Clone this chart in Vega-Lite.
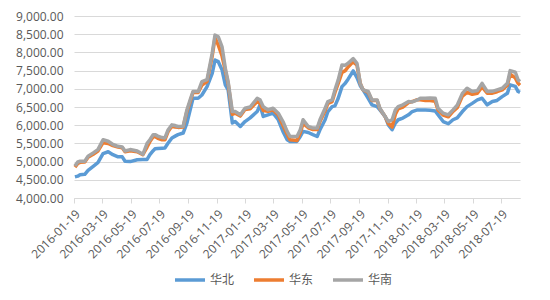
{
  "$schema": "https://vega.github.io/schema/vega-lite/v6.json",
  "width": 446,
  "height": 182,
  "autosize": {"type": "none"},
  "padding": {"left": 74, "top": 16, "right": 30, "bottom": 102},
  "background": "white",
  "config": {
    "view": {"stroke": null},
    "font": "Open Sans"
  },
  "data": {
    "values": [
      {"d": "2016-01-21", "华北": 4580, "华东": 4850, "华南": 4880},
      {"d": "2016-01-27", "华北": 4600, "华东": 4950, "华南": 4990},
      {"d": "2016-02-01", "华北": 4640, "华东": 4980, "华南": 5010},
      {"d": "2016-02-11", "华北": 4650, "华东": 4990, "华南": 5010},
      {"d": "2016-02-18", "华北": 4760, "华东": 5120, "华南": 5150},
      {"d": "2016-02-29", "华北": 4870, "华东": 5200, "华南": 5240},
      {"d": "2016-03-10", "华北": 4970, "华东": 5290, "华南": 5330},
      {"d": "2016-03-21", "华北": 5220, "华东": 5520, "华南": 5600},
      {"d": "2016-04-01", "华北": 5270, "华东": 5500, "华南": 5560},
      {"d": "2016-04-11", "华北": 5190, "华东": 5440, "华南": 5470},
      {"d": "2016-04-22", "华北": 5130, "华东": 5400, "华南": 5420},
      {"d": "2016-05-01", "华北": 5130, "华东": 5380, "华南": 5400},
      {"d": "2016-05-07", "华北": 5010, "华东": 5270, "华南": 5290},
      {"d": "2016-05-18", "华北": 5000, "华东": 5300, "华南": 5330},
      {"d": "2016-06-02", "华北": 5050, "华东": 5270, "华南": 5290},
      {"d": "2016-06-14", "华北": 5060, "华东": 5190, "华南": 5200},
      {"d": "2016-06-23", "华北": 5060, "华东": 5400, "华南": 5500},
      {"d": "2016-06-29", "华北": 5190, "华东": 5550, "华南": 5600},
      {"d": "2016-07-06", "华北": 5300, "华东": 5680, "华南": 5740},
      {"d": "2016-07-10", "华北": 5350, "华东": 5690, "华南": 5740},
      {"d": "2016-07-16", "华北": 5360, "华东": 5640, "华南": 5700},
      {"d": "2016-07-25", "华北": 5370, "华东": 5600, "华南": 5660},
      {"d": "2016-07-31", "华北": 5375, "华东": 5600, "华南": 5650},
      {"d": "2016-08-07", "华北": 5510, "华东": 5830, "华南": 5875},
      {"d": "2016-08-15", "华北": 5650, "华东": 5980, "华南": 6010},
      {"d": "2016-08-22", "华北": 5700, "华东": 5950, "华南": 5990},
      {"d": "2016-08-28", "华北": 5740, "华东": 5940, "华南": 5965},
      {"d": "2016-09-08", "华北": 5785, "华东": 5950, "华南": 5970},
      {"d": "2016-09-16", "华北": 6060, "华东": 6380, "华南": 6420},
      {"d": "2016-09-23", "华北": 6420, "华东": 6650, "华南": 6700},
      {"d": "2016-09-29", "华北": 6740, "华东": 6900, "华南": 6925},
      {"d": "2016-10-10", "华北": 6740, "华东": 6900, "华南": 6925},
      {"d": "2016-10-18", "华北": 6830, "华东": 7100, "华南": 7195},
      {"d": "2016-10-29", "华北": 7060, "华东": 7200, "华南": 7250},
      {"d": "2016-11-09", "华北": 7425, "华东": 7900, "华南": 7975},
      {"d": "2016-11-15", "华北": 7790, "华东": 8400, "华南": 8475},
      {"d": "2016-11-22", "华北": 7745, "华东": 8200, "华南": 8430},
      {"d": "2016-11-30", "华北": 7520, "华东": 7900, "华南": 8155},
      {"d": "2016-12-07", "华北": 7110, "华东": 7500, "华南": 7565},
      {"d": "2016-12-13", "华北": 6970, "华东": 7150, "华南": 7195},
      {"d": "2016-12-22", "华北": 6060, "华东": 6300, "华南": 6375},
      {"d": "2016-12-28", "华北": 6100, "华东": 6330, "华南": 6375},
      {"d": "2017-01-08", "华北": 5965, "华东": 6250, "华南": 6285},
      {"d": "2017-01-18", "华北": 6100, "华东": 6430, "华南": 6465},
      {"d": "2017-01-29", "华北": 6200, "华东": 6450, "华南": 6500},
      {"d": "2017-02-13", "华北": 6375, "华东": 6650, "华南": 6740},
      {"d": "2017-02-19", "华北": 6560, "华东": 6600, "华南": 6700},
      {"d": "2017-02-26", "华北": 6240, "华东": 6400, "华南": 6510},
      {"d": "2017-03-08", "华北": 6285, "华东": 6380, "华南": 6420},
      {"d": "2017-03-19", "华北": 6330, "华东": 6420, "华南": 6465},
      {"d": "2017-03-30", "华北": 6150, "华东": 6280, "华南": 6330},
      {"d": "2017-04-09", "华北": 5830, "华东": 6000, "华南": 6100},
      {"d": "2017-04-18", "华北": 5600, "华东": 5750, "华南": 5830},
      {"d": "2017-04-24", "华北": 5555, "华东": 5600, "华南": 5690},
      {"d": "2017-05-09", "华北": 5555, "华东": 5580, "华南": 5690},
      {"d": "2017-05-16", "华北": 5690, "华东": 5800, "华南": 5875},
      {"d": "2017-05-22", "华北": 5830, "华东": 6050, "华南": 6150},
      {"d": "2017-06-02", "华北": 5800, "华东": 5930, "华南": 5965},
      {"d": "2017-06-12", "华北": 5740, "华东": 5880, "华南": 5920},
      {"d": "2017-06-21", "华北": 5690, "华东": 5880, "华南": 5920},
      {"d": "2017-06-27", "华北": 5875, "华东": 6100, "华南": 6150},
      {"d": "2017-07-08", "华北": 6150, "华东": 6400, "华南": 6465},
      {"d": "2017-07-14", "华北": 6375, "华东": 6600, "华南": 6650},
      {"d": "2017-07-23", "华北": 6510, "华东": 6650, "华南": 6695},
      {"d": "2017-07-29", "华北": 6530, "华东": 6900, "华南": 6970},
      {"d": "2017-08-05", "华北": 6740, "华东": 7150, "华南": 7245},
      {"d": "2017-08-13", "华北": 7060, "华东": 7450, "华南": 7655},
      {"d": "2017-08-20", "华北": 7150, "华东": 7500, "华南": 7650},
      {"d": "2017-08-26", "华北": 7265, "华东": 7600, "华南": 7700},
      {"d": "2017-09-06", "华北": 7490, "华东": 7750, "华南": 7830},
      {"d": "2017-09-14", "华北": 7310, "华东": 7650, "华南": 7700},
      {"d": "2017-09-21", "华北": 7085, "华东": 7150, "华南": 7150},
      {"d": "2017-09-27", "华北": 6970, "华东": 6970, "华南": 6970},
      {"d": "2017-10-08", "华北": 6740, "华东": 6900, "华南": 6925},
      {"d": "2017-10-16", "华北": 6560, "华东": 6680, "华南": 6695},
      {"d": "2017-10-27", "华北": 6510, "华东": 6680, "华南": 6695},
      {"d": "2017-11-02", "华北": 6420, "华东": 6450, "华南": 6465},
      {"d": "2017-11-13", "华北": 6240, "华东": 6240, "华南": 6240},
      {"d": "2017-11-20", "华北": 6010, "华东": 6050, "华南": 6100},
      {"d": "2017-11-28", "华北": 5875, "华东": 5950, "华南": 6150},
      {"d": "2017-12-05", "华北": 6060, "华东": 6300, "华南": 6420},
      {"d": "2017-12-11", "华北": 6150, "华东": 6450, "华南": 6510},
      {"d": "2017-12-21", "华北": 6195, "华东": 6500, "华南": 6560},
      {"d": "2018-01-02", "华北": 6285, "华东": 6620, "华南": 6650},
      {"d": "2018-01-10", "华北": 6375, "华东": 6650, "华南": 6640},
      {"d": "2018-01-21", "华北": 6420, "华东": 6700, "华南": 6695},
      {"d": "2018-01-27", "华北": 6420, "华东": 6700, "华南": 6740},
      {"d": "2018-02-07", "华北": 6420, "华东": 6680, "华南": 6740},
      {"d": "2018-02-17", "华北": 6410, "华东": 6680, "华南": 6750},
      {"d": "2018-02-28", "华北": 6390, "华东": 6660, "华南": 6740},
      {"d": "2018-03-06", "华北": 6285, "华东": 6420, "华南": 6465},
      {"d": "2018-03-17", "华北": 6100, "华东": 6280, "华南": 6330},
      {"d": "2018-03-28", "华北": 6040, "华东": 6230, "华南": 6285},
      {"d": "2018-04-07", "华北": 6150, "华东": 6380, "华南": 6420},
      {"d": "2018-04-16", "华北": 6200, "华东": 6480, "华南": 6550},
      {"d": "2018-04-27", "华北": 6375, "华东": 6800, "华南": 6875},
      {"d": "2018-05-07", "华北": 6510, "华东": 6900, "华南": 7015},
      {"d": "2018-05-18", "华北": 6600, "华东": 6850, "华南": 6925},
      {"d": "2018-05-29", "华北": 6695, "华东": 6880, "华南": 6950},
      {"d": "2018-06-08", "华北": 6740, "华东": 7050, "华南": 7150},
      {"d": "2018-06-19", "华北": 6560, "华东": 6880, "华南": 6925},
      {"d": "2018-06-30", "华北": 6650, "华东": 6880, "华南": 6930},
      {"d": "2018-07-10", "华北": 6680, "华东": 6920, "华南": 6970},
      {"d": "2018-07-21", "华北": 6785, "华东": 6970, "华南": 7015},
      {"d": "2018-08-01", "华北": 6875, "华东": 7100, "华南": 7150},
      {"d": "2018-08-07", "华北": 7110, "华东": 7400, "华南": 7500},
      {"d": "2018-08-18", "华北": 7065, "华东": 7300, "华南": 7455},
      {"d": "2018-08-24", "华北": 6925, "华东": 7150, "华南": 7245},
      {"d": "2018-08-28", "华北": 6900, "华东": 7100, "华南": 7200}
    ]
  },
  "transform": [
    {"fold": ["华北", "华东", "华南"], "as": ["region", "value"]}
  ],
  "mark": {"type": "line", "strokeWidth": 3.5, "strokeJoin": "round", "strokeCap": "butt"},
  "encoding": {
    "x": {
      "field": "d",
      "type": "temporal",
      "scale": {
        "type": "utc",
        "domain": [
          {"year": 2016, "month": 1, "date": 19, "utc": true},
          {"year": 2018, "month": 8, "date": 28, "utc": true}
        ]
      },
      "axis": {
        "title": null,
        "values": [
          {"year": 2016, "month": 1, "date": 19, "utc": true},
          {"year": 2016, "month": 3, "date": 19, "utc": true},
          {"year": 2016, "month": 5, "date": 19, "utc": true},
          {"year": 2016, "month": 7, "date": 19, "utc": true},
          {"year": 2016, "month": 9, "date": 19, "utc": true},
          {"year": 2016, "month": 11, "date": 19, "utc": true},
          {"year": 2017, "month": 1, "date": 19, "utc": true},
          {"year": 2017, "month": 3, "date": 19, "utc": true},
          {"year": 2017, "month": 5, "date": 19, "utc": true},
          {"year": 2017, "month": 7, "date": 19, "utc": true},
          {"year": 2017, "month": 9, "date": 19, "utc": true},
          {"year": 2017, "month": 11, "date": 19, "utc": true},
          {"year": 2018, "month": 1, "date": 19, "utc": true},
          {"year": 2018, "month": 3, "date": 19, "utc": true},
          {"year": 2018, "month": 5, "date": 19, "utc": true},
          {"year": 2018, "month": 7, "date": 19, "utc": true}
        ],
        "format": "%Y-%m-%d",
        "labelAngle": -45,
        "labelFontSize": 12,
        "labelColor": "#595959",
        "labelPadding": 5,
        "domainColor": "#d9d9d9",
        "tickColor": "#d9d9d9",
        "tickSize": 5,
        "grid": false,
        "labelOverlap": false,
        "labelFlush": false
      }
    },
    "y": {
      "field": "value",
      "type": "quantitative",
      "scale": {"domain": [4000, 9000], "nice": false, "zero": false},
      "axis": {
        "title": null,
        "values": [4000, 4500, 5000, 5500, 6000, 6500, 7000, 7500, 8000, 8500, 9000],
        "format": ",.2f",
        "domain": false,
        "ticks": false,
        "labelPadding": 11,
        "labelFontSize": 12,
        "labelColor": "#595959",
        "gridColor": "#d9d9d9",
        "gridWidth": 1
      }
    },
    "color": {
      "field": "region",
      "type": "nominal",
      "sort": ["华北", "华东", "华南"],
      "scale": {"domain": ["华北", "华东", "华南"], "range": ["#5B9BD5", "#ED7D31", "#A5A5A5"]},
      "legend": {
        "title": null,
        "orient": "none",
        "direction": "horizontal",
        "legendX": 99,
        "legendY": 247,
        "symbolType": "stroke",
        "symbolSize": 900,
        "symbolStrokeWidth": 3.5,
        "labelFont": "Noto Sans CJK SC",
        "labelFontSize": 12,
        "labelColor": "#595959",
        "labelOffset": 3,
        "columnPadding": 12,
        "padding": 0
      }
    }
  }
}
